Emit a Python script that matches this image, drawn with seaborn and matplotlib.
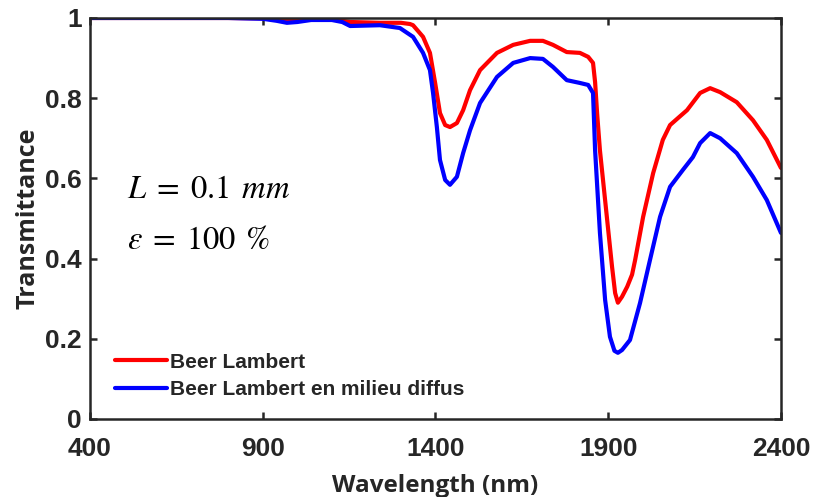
import numpy as np
import pandas as pd
import matplotlib
matplotlib.use("Agg")
import matplotlib.pyplot as plt
import seaborn as sns

# values
wl_red = [400, 600, 800, 900, 970, 1050, 1100, 1153, 1239, 1300, 1326, 1335,
          1364, 1384, 1399, 1413, 1428, 1442, 1462, 1480, 1500, 1529, 1578,
          1625, 1674, 1711, 1740, 1780, 1818, 1842, 1856, 1862, 1868, 1876,
          1896, 1911, 1920, 1928, 1940, 1955, 1969, 1978, 2001, 2030, 2058,
          2079, 2108, 2128, 2166, 2195, 2224, 2272, 2319, 2359, 2400]
t_red = [1.0, 1.0, 1.0, 0.999, 0.996, 0.997, 0.997, 0.99, 0.988, 0.988, 0.985, 0.982,
         0.953, 0.913, 0.838, 0.763, 0.733, 0.728, 0.738, 0.77, 0.82, 0.87, 0.913,
         0.933, 0.943, 0.943, 0.933, 0.915, 0.913, 0.903, 0.888, 0.84, 0.76, 0.67,
         0.504, 0.38, 0.314, 0.29, 0.305, 0.33, 0.36, 0.397, 0.504, 0.613, 0.696,
         0.733, 0.755, 0.77, 0.813, 0.825, 0.815, 0.79, 0.745, 0.696, 0.626]

wl_blue = [400, 600, 800, 900, 940, 970, 1000, 1040, 1100, 1130, 1153, 1239,
           1297, 1335, 1364, 1384, 1393, 1404, 1413, 1428, 1442, 1462, 1480,
           1500, 1529, 1578, 1625, 1674, 1711, 1740, 1780, 1818, 1842, 1856,
           1862, 1876, 1891, 1905, 1918, 1928, 1940, 1963, 1992, 2021, 2050,
           2079, 2116, 2145, 2166, 2195, 2224, 2272, 2319, 2359, 2400]
t_blue = [1.0, 1.0, 1.0, 0.998, 0.993, 0.988, 0.99, 0.995, 0.995, 0.99, 0.98, 0.982,
          0.975, 0.953, 0.913, 0.87, 0.813, 0.728, 0.646, 0.596, 0.584, 0.604, 0.663,
          0.72, 0.788, 0.853, 0.888, 0.90, 0.898, 0.878, 0.845, 0.838, 0.833, 0.813,
          0.67, 0.464, 0.297, 0.205, 0.17, 0.165, 0.172, 0.197, 0.289, 0.397, 0.504,
          0.579, 0.621, 0.653, 0.688, 0.713, 0.70, 0.663, 0.604, 0.546, 0.464]

labels = ["Beer Lambert", "Beer Lambert en milieu diffus"]
colors = ["red", "blue"]

# long table for seaborn
df = pd.concat([
    pd.DataFrame({"wl": wl_red, "T": t_red, "model": labels[0]}),
    pd.DataFrame({"wl": wl_blue, "T": t_blue, "model": labels[1]}),
])

sns.set_style("ticks")
plt.rcParams["mathtext.fontset"] = "stix"
plt.rcParams["font.family"] = ["Liberation Sans", "DejaVu Sans"]

fig, ax = plt.subplots(figsize=(8.13, 4.97), dpi=100)
fig.subplots_adjust(left=0.1107, right=0.9606, top=0.9638, bottom=0.157)

sns.lineplot(data=df, x="wl", y="T", hue="model", palette=colors,
             linewidth=3, sort=False, estimator=None, ax=ax)

ax.set_xlim(400, 2400)
ax.set_ylim(0, 1)
ax.set_xticks([400, 900, 1400, 1900, 2400])
ax.set_yticks([0, 0.2, 0.4, 0.6, 0.8, 1])
ax.set_yticklabels(["0", "0.2", "0.4", "0.6", "0.8", "1"])
ax.tick_params(direction="in", top=True, right=True, length=5, width=1.8,
               color="#262626", labelsize=19)
ax.tick_params(axis="x", pad=13)
ax.tick_params(axis="y", pad=6)
for lab in ax.get_xticklabels() + ax.get_yticklabels():
    lab.set_fontweight("bold")
    lab.set_color("#262626")
for sp in ax.spines.values():
    sp.set_visible(True)
    sp.set_linewidth(1.8)
    sp.set_color("#262626")

ax.set_xlabel("Wavelength (nm)", fontsize=17.5, fontweight="bold",
              family="Open Sans", color="#262626", labelpad=9)
ax.set_ylabel("Transmittance", fontsize=18, fontweight="bold",
              family="Open Sans", color="#262626", labelpad=3)

ax.text(0.054, 0.55, r"$L\;=\;0.1\;\,mm$", transform=ax.transAxes,
        fontsize=23.5, color="black")
ax.text(0.054, 0.425, r"$\varepsilon\;=\;100\;\,\%$", transform=ax.transAxes,
        fontsize=23.5, color="black")

leg = ax.legend(loc="lower left", bbox_to_anchor=(0.036, 0.05), frameon=False,
                borderpad=0, borderaxespad=0, handlelength=2.5,
                handletextpad=0.15, labelspacing=0.4,
                prop={"weight": "bold", "size": 15})

plt.savefig("out.png", dpi=100)
